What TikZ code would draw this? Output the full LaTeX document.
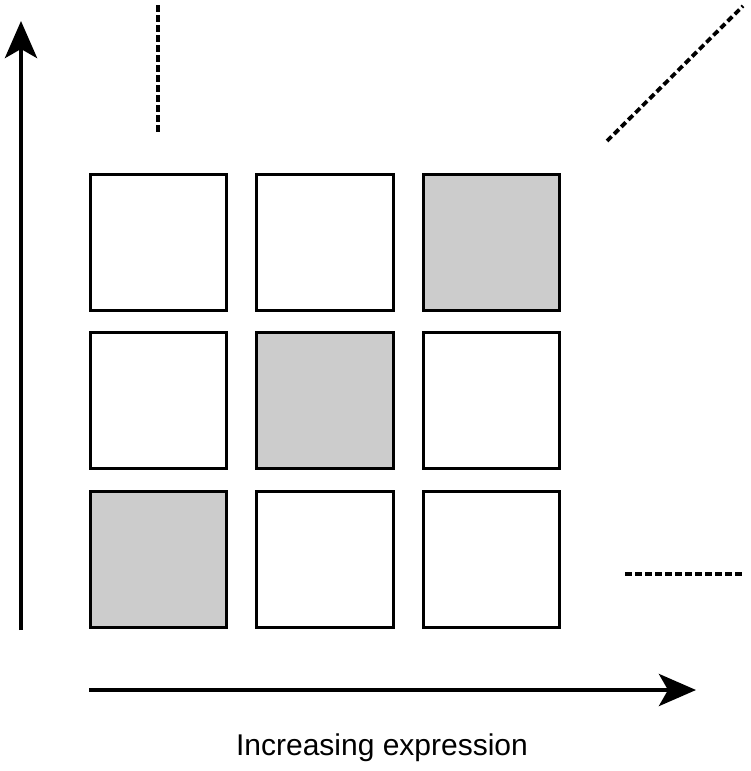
\documentclass[tikz,border=0pt]{standalone}
\usepackage{fontspec}
\setmainfont{Liberation Sans}
\usetikzlibrary{arrows.meta}
\definecolor{cellgray}{HTML}{CCCCCC}
\tikzset{
  cell/.style={draw=black, line width=3pt, minimum size=136.5pt, inner sep=0pt, fill=white},
  hot/.style={cell, fill=cellgray},
  axis/.style={line width=4.5pt, -{Stealth[length=37pt, width=32pt, inset=9pt]}},
  dotline/.style={line width=3.8pt, dash pattern=on 6.5pt off 3.5pt}
}
\begin{document}
\begin{tikzpicture}[x=1pt, y=-1pt]
\useasboundingbox (0,0) rectangle (750,771);
% grid
\node[cell] (c11) at (158.5,242.5) {};
\node[cell] (c12) at (325,242.5) {};
\node[hot]  (c13) at (491.5,242.5) {};
\node[cell] (c21) at (158.5,400.5) {};
\node[hot]  (c22) at (325,400.5) {};
\node[cell] (c23) at (491.5,400.5) {};
\node[hot]  (c31) at (158.5,559.5) {};
\node[cell] (c32) at (325,559.5) {};
\node[cell] (c33) at (491.5,559.5) {};
% axes
\coordinate (vy0) at (21,630);
\coordinate (vy1) at (21,21);
\coordinate (hx0) at (89,690);
\coordinate (hx1) at (696,690);
\draw[axis] (vy0) -- (vy1);
\draw[axis] (hx0) -- (hx1);
% dashed continuation marks
\coordinate (d1a) at (158,5);
\coordinate (d1b) at (158,135);
\coordinate (d2a) at (607,141);
\coordinate (d2b) at (743,6);
\coordinate (d3a) at (625,574);
\coordinate (d3b) at (744,574);
\draw[dotline] (d1a) -- (d1b);
\draw[dotline] (d2a) -- (d2b);
\draw[dotline] (d3a) -- (d3b);
% label
\node[font=\fontsize{30}{34}\selectfont, inner sep=0pt] (lbl) at (382,748) {Increasing expression};
\end{tikzpicture}
\end{document}
